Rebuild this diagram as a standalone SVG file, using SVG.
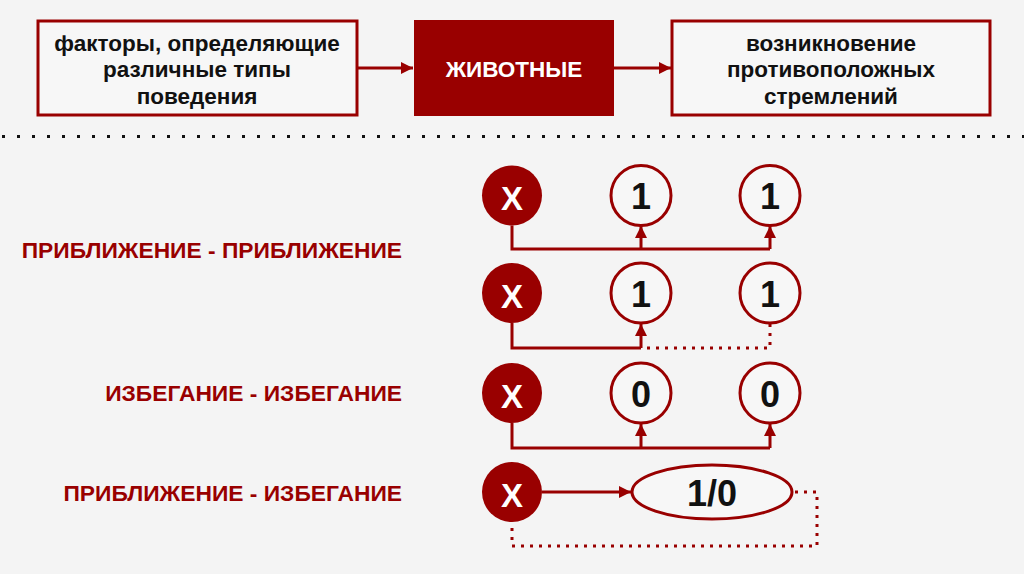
<svg xmlns="http://www.w3.org/2000/svg" width="1024" height="574" viewBox="0 0 1024 574">
<style>
.bg{fill:#f4f4f4}
.box{fill:#f7f7f7;stroke:#990000;stroke-width:3}
.dark{fill:#990000}
.t{font-family:"Liberation Sans",Arial,sans-serif;font-weight:bold;font-size:22.5px;fill:#111;text-anchor:middle}
.w{fill:#fff}
.lbl{font-family:"Liberation Sans",Arial,sans-serif;font-weight:bold;font-size:22.8px;fill:#990000;text-anchor:end}
.num{font-family:"Liberation Sans",Arial,sans-serif;font-weight:bold;font-size:36px;fill:#111;text-anchor:middle}
.xn{font-family:"Liberation Sans",Arial,sans-serif;font-weight:bold;font-size:33px;fill:#fff;text-anchor:middle}
.oc{fill:#f7f7f7;stroke:#990000;stroke-width:3}
.ln{fill:none;stroke:#990000;stroke-width:3}
.dot{fill:none;stroke:#990000;stroke-width:3;stroke-dasharray:3 6}
</style>
<defs>
<marker id="ah" viewBox="0 0 10 10" refX="10" refY="5" markerWidth="4" markerHeight="4" orient="auto" markerUnits="strokeWidth">
<path d="M0,0 L10,5 L0,10 z" fill="#990000"/>
</marker>
</defs>
<rect class="bg" x="0" y="0" width="1024" height="574"/>
<line x1="2" y1="136.5" x2="1024" y2="136.5" stroke="#111" stroke-width="3" stroke-dasharray="3 12"/>

<g id="box-factors">
<rect class="box" x="38" y="21" width="319" height="94"/>
<text class="t" x="197" y="51">факторы, определяющие</text>
<text class="t" x="197" y="77">различные типы</text>
<text class="t" x="197" y="104">поведения</text>
</g>
<g id="box-animals">
<rect class="dark" x="414" y="20" width="200" height="96"/>
<text class="t w" x="514" y="77">ЖИВОТНЫЕ</text>
</g>
<g id="box-result">
<rect class="box" x="672" y="21" width="318" height="94"/>
<text class="t" x="831" y="51">возникновение</text>
<text class="t" x="831" y="77">противоположных</text>
<text class="t" x="831" y="104">стремлений</text>
</g>

<g id="labels">
<text class="lbl" x="402" y="258">ПРИБЛИЖЕНИЕ - ПРИБЛИЖЕНИЕ</text>
<text class="lbl" x="402" y="401">ИЗБЕГАНИЕ - ИЗБЕГАНИЕ</text>
<text class="lbl" x="402" y="501">ПРИБЛИЖЕНИЕ - ИЗБЕГАНИЕ</text>
</g>

<g id="row1">
<g id="r1-x"><circle class="dark" cx="512" cy="195.5" r="30"/><text class="xn" x="512" y="210">X</text></g>
<g id="r1-a"><circle class="oc" cx="641" cy="195.5" r="30"/><text class="num" x="641" y="209">1</text></g>
<g id="r1-b"><circle class="oc" cx="770" cy="195.5" r="30"/><text class="num" x="770" y="209">1</text></g>
</g>
<g id="row2">
<g id="r2-x"><circle class="dark" cx="512" cy="293" r="30"/><text class="xn" x="512" y="307.5">X</text></g>
<g id="r2-a"><circle class="oc" cx="641" cy="293" r="30"/><text class="num" x="641" y="306.5">1</text></g>
<g id="r2-b"><circle class="oc" cx="770" cy="293" r="30"/><text class="num" x="770" y="306.5">1</text></g>
</g>
<g id="row3">
<g id="r3-x"><circle class="dark" cx="512" cy="393" r="30"/><text class="xn" x="512" y="407.5">X</text></g>
<g id="r3-a"><circle class="oc" cx="641" cy="393" r="30"/><text class="num" x="641" y="406.5">0</text></g>
<g id="r3-b"><circle class="oc" cx="770" cy="393" r="30"/><text class="num" x="770" y="406.5">0</text></g>
</g>
<g id="row4">
<g id="r4-x"><circle class="dark" cx="512" cy="492" r="30"/><text class="xn" x="512" y="506.5">X</text></g>
<g id="r4-e"><ellipse class="oc" cx="712" cy="492" rx="80" ry="27"/><text class="num" x="712" y="506">1/0</text></g>
</g>

<g id="connectors">
<line x1="357" y1="68" x2="413" y2="68" class="ln" marker-end="url(#ah)"/>
<line x1="614" y1="68" x2="671" y2="68" class="ln" marker-end="url(#ah)"/>

<polyline class="ln" points="512,225.5 512,249 770,249"/>
<line class="ln" x1="641" y1="249" x2="641" y2="226" marker-end="url(#ah)"/>
<line class="ln" x1="770" y1="249" x2="770" y2="226" marker-end="url(#ah)"/>

<polyline class="ln" points="512,323 512,348 641,348"/>
<line class="ln" x1="641" y1="348" x2="641" y2="324" marker-end="url(#ah)"/>
<polyline class="dot" points="647,348 770,348 770,324"/>

<polyline class="ln" points="512,423 512,448 770,448"/>
<line class="ln" x1="641" y1="448" x2="641" y2="424" marker-end="url(#ah)"/>
<line class="ln" x1="770" y1="448" x2="770" y2="424" marker-end="url(#ah)"/>

<line class="ln" x1="542" y1="492" x2="631" y2="492" marker-end="url(#ah)"/>
<polyline class="dot" points="795,492 817,492 817,546 512,546 512,524"/>
</g>
</svg>
